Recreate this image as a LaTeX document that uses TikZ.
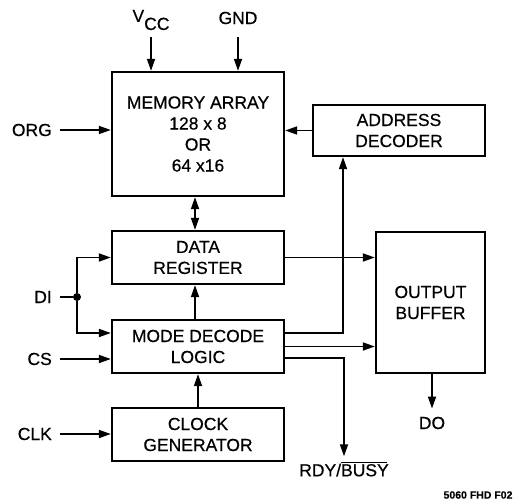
\documentclass[tikz,border=0pt]{standalone}
\usepackage{fontspec}
\setmainfont{Liberation Sans}[FakeBold=0.5]
\usetikzlibrary{arrows.meta}

\begin{document}
\begin{tikzpicture}[x=1pt,y=-1pt,
    blk/.style={draw,line width=2.3pt,align=center,inner sep=0pt,font=\fontsize{17.5}{21}\selectfont},
    sig/.style={inner sep=0pt,font=\fontsize{17.5}{21}\selectfont},
    wire/.style={line width=1.7pt},
    arr/.style={wire,-{Triangle[length=12pt,width=8pt]}}]
  \useasboundingbox (0,0) rectangle (525,503);
  % blocks
  \node[blk,minimum width=172pt,minimum height=124pt] (mem) at (198,134) {MEMORY ARRAY\\128 x 8\\OR\\64 x16};
  \node[blk,minimum width=172pt,minimum height=51pt] (addr) at (399,130.5) {ADDRESS\\DECODER};
  \node[blk,minimum width=172pt,minimum height=53pt] (datreg) at (198,257.5) {DATA\\REGISTER};
  \node[blk,minimum width=172pt,minimum height=53pt] (modedec) at (198,346.5) {MODE DECODE\\LOGIC};
  \node[blk,minimum width=172pt,minimum height=53pt] (clkgen) at (198,434.5) {CLOCK\\GENERATOR};
  \node[blk,minimum width=109pt,minimum height=141pt] (outbuf) at (430.5,302.5) {OUTPUT\\BUFFER};
  % pins
  \node[sig] (vcc) at (151,20) {V\raisebox{-8pt}{CC}};
  \node[sig] (gnd) at (238,18) {GND};
  \node[sig,anchor=east] (org) at (52,130) {ORG};
  \node[sig,anchor=east] (di) at (52,297) {DI};
  \node[sig,anchor=east] (cs) at (52,359) {CS};
  \node[sig,anchor=east] (clk) at (52,434) {CLK};
  \node[sig] (do) at (432,423) {DO};
  \node[sig] (rdy) at (344,469) {RDY/\rlap{\rule[13.5pt]{46pt}{1.3pt}}BUSY};
  \node[circle,fill,inner sep=0pt,minimum size=8pt] (jct) at (77,297) {};
  \coordinate (bus) at (343,0);
  % connections
  \draw[arr] ([yshift=-7pt]vcc.south) -- (vcc |- mem.north);
  \draw[arr] ([yshift=-13pt]gnd.south) -- (gnd |- mem.north);
  \draw[arr] ([xshift=8pt]org.east) -- (org -| mem.west);
  \draw[arr] (addr.west) -- (addr.west -| mem.east);
  \draw[wire,{Triangle[length=12pt,width=8pt]}-{Triangle[length=12pt,width=8pt]}] ([xshift=-3pt]mem.south) -- ([xshift=-3pt]datreg.north);
  \draw[wire] ([xshift=8pt]di.east) -- (jct);
  \draw[arr] (jct) |- (datreg.west);
  \draw[arr] (jct) |- ([yshift=13.5pt]modedec.west);
  \draw[arr] ([xshift=8pt]cs.east) -- (cs -| modedec.west);
  \draw[arr] ([xshift=8pt]clk.east) -- (clk -| clkgen.west);
  \draw[arr] ([xshift=-3pt]modedec.north) -- ([xshift=-3pt]datreg.south);
  \draw[arr] (clkgen.north) -- (modedec.south);
  \draw[arr] (datreg.east) -- (datreg.east -| outbuf.west);
  \draw[arr] ([yshift=13.5pt]modedec.east) -| (bus |- addr.south);
  \draw[arr] (modedec.east) -- (modedec.east -| outbuf.west);
  \draw[arr] ([yshift=-11.5pt]modedec.east) -| ([yshift=5pt]rdy.north);
  \draw[arr] (outbuf.south -| do) -- ([yshift=8pt]do.north);
  % figure tag
  \node[font=\fontsize{10.5}{12}\selectfont\bfseries] (tag) at (478,495) {5060 FHD F02};
\end{tikzpicture}
\end{document}
